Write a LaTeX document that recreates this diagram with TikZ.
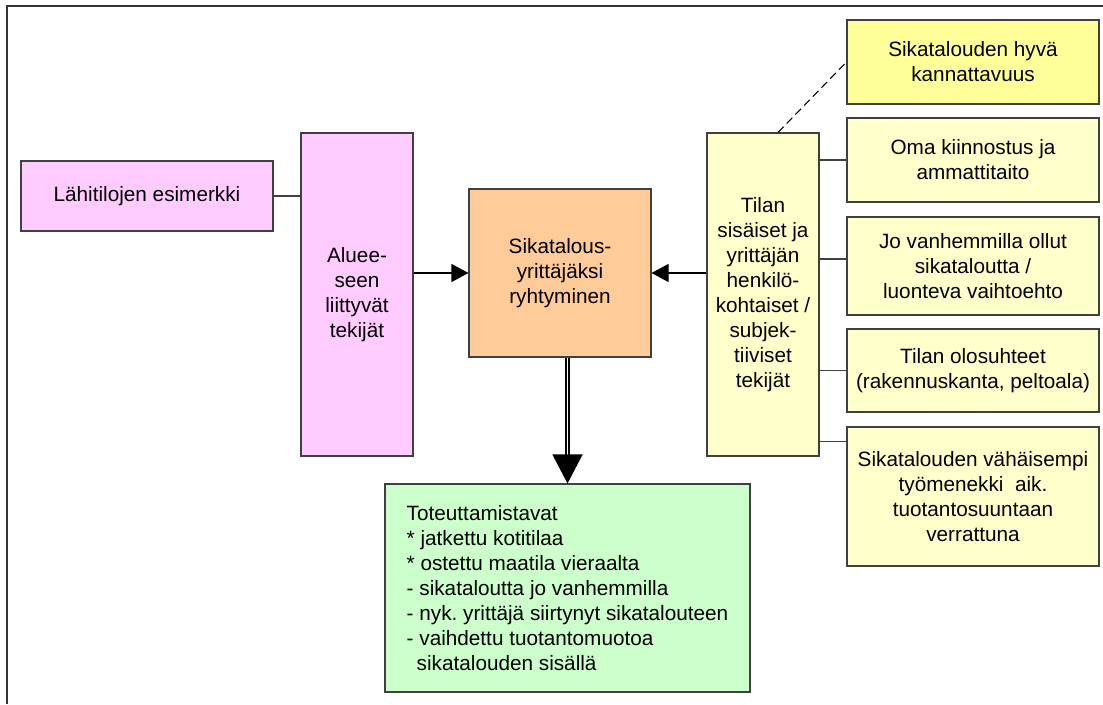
\documentclass[tikz,border=0pt]{standalone}
\usepackage{fontspec}
\setmainfont{Liberation Sans}
\usetikzlibrary{arrows.meta}
\frenchspacing

\definecolor{pinkbox}{HTML}{FFCCFF}
\definecolor{orangebox}{HTML}{FFCC99}
\definecolor{paleyellow}{HTML}{FFFFCC}
\definecolor{brightyellow}{HTML}{FFFF99}
\definecolor{greenbox}{HTML}{CCFFCC}
\newcommand{\px}{0.2mm}

\tikzset{
  box/.style={draw=black!75, line width=0.6pt, inner sep=0pt, align=center,
    font=\fontsize{11.8}{14.2}\selectfont},
  link/.style={draw=black!75, line width=0.6pt},
  pointer/.style={line width=0.6pt, -{Triangle[length=3.4mm,width=3.6mm]}},
}

\begin{document}
\begin{tikzpicture}[x=0.2mm, y=-0.2mm]
  \useasboundingbox (0,0) rectangle (1103,704);
  % frame
  \draw[line width=0.8pt, black!80] (7,704) -- (7,6) -- (1103,6);
  % left side
  \node[box, fill=pinkbox, minimum width=252*\px, minimum height=70*\px] (lahi) at (147,196) {Lähitilojen esimerkki};
  \node[box, fill=pinkbox, minimum width=112*\px, minimum height=323*\px] (alue) at (357,294.5) {Aluee-\\seen\\liittyvät\\tekijät};
  % centre
  \node[box, fill=orangebox, minimum width=182*\px, minimum height=168*\px] (ryht) at (560,273) {Sikatalous-\\yrittäjäksi\\ryhtyminen};
  \node[box, fill=greenbox, align=left, minimum width=365*\px, minimum height=208*\px] (tapa) at (567.5,588)
    {Toteuttamistavat\\{*} jatkettu kotitilaa\\{*} ostettu maatila vieraalta\\- sikataloutta jo vanhemmilla\\- nyk. yrittäjä siirtynyt sikatalouteen\\- vaihdettu tuotantomuotoa\\\hspace*{2mm}sikatalouden sisällä};
  % right side
  \node[box, fill=paleyellow, minimum width=112*\px, minimum height=323*\px] (tilan) at (763,294.5) {Tilan\\sisäiset ja\\yrittäjän\\henkilö-\\kohtaiset /\\subjek-\\tiiviset\\tekijät};
  \node[box, fill=brightyellow, minimum width=252*\px, minimum height=84*\px] (hyva) at (973,62) {Sikatalouden hyvä\\kannattavuus};
  \node[box, fill=paleyellow, minimum width=252*\px, minimum height=84*\px] (oma) at (973,160) {Oma kiinnostus ja\\ammattitaito};
  \node[box, fill=paleyellow, minimum width=252*\px, minimum height=98*\px] (jo) at (973,266) {Jo vanhemmilla ollut\\sikataloutta /\\luonteva vaihtoehto};
  \node[box, fill=paleyellow, minimum width=252*\px, minimum height=83*\px] (olo) at (973,370.5) {Tilan olosuhteet\\(rakennuskanta, peltoala)};
  \node[box, fill=paleyellow, minimum width=252*\px, minimum height=139*\px] (vah) at (973,496.5) {Sikatalouden vähäisempi\\työmenekki\ \ aik.\\tuotantosuuntaan\\verrattuna};
  % connectors
  \draw[link] (lahi.east) -- (alue.west |- lahi.east);
  \draw[pointer] (alue.east |- ryht.west) -- (ryht.west);
  \draw[pointer] (tilan.west |- ryht.east) -- (ryht.east);
  \draw[link, black, dash pattern=on 1.6mm off 0.9mm] ([xshift=3mm]tilan.north) -- (hyva.west);
  \draw[link] (tilan.east |- oma.west) -- (oma.west);
  \draw[link] ([yshift=1.4mm]tilan.east |- jo.west) -- ([yshift=1.4mm]jo.west);
  \draw[link] (tilan.east |- olo.west) -- (olo.west);
  \draw[link] ([yshift=-3mm]tilan.east |- vah.north west) -- ([yshift=-3mm]vah.north west);
  \draw[line width=0.8pt, double, double distance=0.8pt, -{Triangle[length=5.8mm,width=6mm]}] (ryht.south -| tapa.north) -- (tapa.north);
\end{tikzpicture}
\end{document}
